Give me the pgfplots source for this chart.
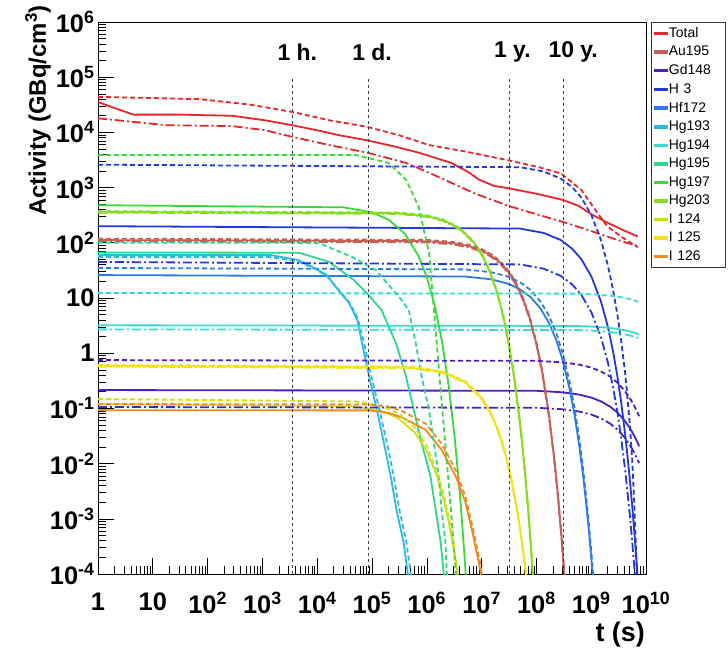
\documentclass[border=0pt]{standalone}
\usepackage{pgfplots}
\pgfplotsset{compat=1.18}
\usepackage{fontspec}
\setmainfont{Liberation Sans}
\definecolor{cTot}{HTML}{E8262A}
\definecolor{cAu}{HTML}{C8605A}
\definecolor{cGd}{HTML}{4B20C0}
\definecolor{cH}{HTML}{2338D8}
\definecolor{cHf}{HTML}{2E7BE4}
\definecolor{cHga}{HTML}{2DB9E6}
\definecolor{cHgb}{HTML}{3ED8D0}
\definecolor{cHgc}{HTML}{2ED88A}
\definecolor{cHgd}{HTML}{3AD83A}
\definecolor{cHge}{HTML}{86DC22}
\definecolor{cIa}{HTML}{C6E21E}
\definecolor{cIb}{HTML}{F2E21C}
\definecolor{cIc}{HTML}{F08A1E}
\tikzset{
 ls/.style={line width=1.8bp},
 ld/.style={line width=1.8bp, dash pattern=on 5bp off 3bp},
 lc/.style={line width=1.8bp, dash pattern=on 9bp off 3bp on 2bp off 3bp},
}
\begin{document}
\begin{tikzpicture}
\useasboundingbox (-98bp,-84bp) rectangle (630bp,574bp);
\begin{axis}[
 at={(0,0)}, anchor=south west, scale only axis,
 width=548bp, height=552bp,
 xmode=log, ymode=log,
 xmin=1, xmax=1e10, ymin=1e-4, ymax=1e6,
 xtick={1,10,100,1e3,1e4,1e5,1e6,1e7,1e8,1e9,1e10},
 xticklabels={1,10,10\textsuperscript{2},10\textsuperscript{3},10\textsuperscript{4},10\textsuperscript{5},10\textsuperscript{6},10\textsuperscript{7},10\textsuperscript{8},10\textsuperscript{9},10\textsuperscript{10}},
 ytick={1e-4,1e-3,1e-2,1e-1,1,10,100,1e3,1e4,1e5,1e6},
 yticklabels={10\textsuperscript{-4},10\textsuperscript{-3},10\textsuperscript{-2},10\textsuperscript{-1},1,10,10\textsuperscript{2},10\textsuperscript{3},10\textsuperscript{4},10\textsuperscript{5},10\textsuperscript{6}},
 tick align=inside, xtick pos=bottom, ytick pos=left,
 major tick length=16bp, minor tick length=8bp,
 every tick/.style={black, line width=0.6bp},
 axis line style={black, line width=0.8bp},
 ticklabel style={font=\fontsize{25.5}{25.5}\selectfont\bfseries},
 xticklabel style={yshift=-15bp},
 no markers, line join=round,
 legend cell align=left,
 legend style={at={(1,1)}, anchor=north west, xshift=5bp, draw=black!80, line width=0.6bp,
   font=\fontsize{14}{14}\selectfont, row sep=5.3bp, inner xsep=3bp, inner ysep=4bp, nodes={inner sep=1bp},
   /tikz/every even column/.append style={text width=52bp}},
 legend image code/.code={\fill[#1] (0bp,-1.2bp) rectangle (13bp,1.2bp);},
]
\addlegendimage{cTot}\addlegendentry{Total}
\addlegendimage{cAu}\addlegendentry{Au195}
\addlegendimage{cGd}\addlegendentry{Gd148}
\addlegendimage{cH}\addlegendentry{H 3}
\addlegendimage{cHf}\addlegendentry{Hf172}
\addlegendimage{cHga}\addlegendentry{Hg193}
\addlegendimage{cHgb}\addlegendentry{Hg194}
\addlegendimage{cHgc}\addlegendentry{Hg195}
\addlegendimage{cHgd}\addlegendentry{Hg197}
\addlegendimage{cHge}\addlegendentry{Hg203}
\addlegendimage{cIa}\addlegendentry{I 124}
\addlegendimage{cIb}\addlegendentry{I 125}
\addlegendimage{cIc}\addlegendentry{I 126}
% ---------- solid curves ----------
\addplot[cTot, ls, forget plot] coordinates {(1,3.55e4) (2.04,2.75e4) (4.4,2.1e4) (31,2.1e4) (282,2.0e4) (1.1e3,1.66e4) (3.5e3,1.35e4) (1.1e4,1.07e4) (2.5e4,8.9e3) (8.1e4,7.2e3) (2.5e5,5.6e3) (7.1e5,4.3e3) (2.8e6,2.8e3) (5.8e6,1.9e3) (8.9e6,1.4e3) (1.7e7,1.07e3) (3.0e7,980) (1.1e8,760) (3.0e8,600) (5.8e8,470) (1.0e9,330) (2.0e9,230) (3.8e9,170) (7.1e9,130)};
\addplot[cAu, ls, forget plot] coordinates {(1,112) (1e6,107) (3e6,98.4) (6e6,86.5) (1e7,72.8) (1.5e7,58.6) (2.2e7,43.4) (3e7,30.7) (4e7,20.0) (5.5e7,10.5) (7.5e7,4.43) (1e8,1.50) (1.3e8,0.414) (1.7e8,0.0737) (2.1e8,0.0131) (2.5e8,2.32e-3) (2.9e8,4.14e-4) (3.3e8,7.4e-5)};
\addplot[cGd, ls, forget plot] coordinates {(1,0.215) (1e8,0.2084) (3e8,0.1957) (6e8,0.1782) (1e9,0.1573) (1.5e9,0.1345) (2.2e9,0.1081) (3e9,0.0842) (4e9,0.0616) (5e9,0.0451) (6e9,0.033) (7e9,0.0241) (7.5e9,0.0206)};
\addplot[cH, ls, forget plot] coordinates {(1,200) (5e7,181) (1.35e8,151) (2.8e8,112) (4.5e8,78) (6.6e8,50.5) (1e9,24.9) (1.5e9,8.8) (2e9,3.1) (2.5e9,1.09) (3e9,0.386) (3.5e9,0.136) (4.2e9,0.0317) (5e9,5.99e-3) (5.6e9,1.72e-3) (6.3e9,4.0e-4) (7e9,9.4e-5)};
\addplot[cHf, ls, forget plot] coordinates {(1,26) (5e6,24.5) (1.5e7,21.8) (3e7,18.3) (5e7,14.4) (8e7,10.2) (1.2e8,6.35) (1.7e8,3.52) (2.3e8,1.74) (3e8,0.76) (4e8,0.234) (5e8,0.0726) (6e8,0.0223) (7e8,6.9e-3) (8e8,2.1e-3) (9e8,6.6e-4) (1e9,2.0e-4) (1.1e9,6.2e-5)};
\addplot[cHga, ls, forget plot] coordinates {(1,60) (1.4e3,60) (4.4e3,49) (8.9e3,35) (1.5e4,26) (2.2e4,15.8) (3.8e4,8.1) (5.4e4,4.0) (6.6e4,1.5) (8.9e4,0.37) (1.23e5,0.093) (1.66e5,0.023) (2.2e5,5.8e-3) (2.8e5,1.45e-3) (3.8e5,3.6e-4) (4.5e5,1e-4) (4.8e5,7e-5)};
\addplot[cHgb, ls, forget plot] coordinates {(1,3.2) (5e8,3.12) (1e9,3.04) (2e9,2.90) (3e9,2.75) (4.5e9,2.56) (6e9,2.37) (7.5e9,2.20)};
\addplot[cHgc, ls, forget plot] coordinates {(1,67) (4.7e3,66) (1.66e4,45) (4.7e4,21) (8.9e4,11) (1.5e5,6.0) (2.75e5,1.5) (4.2e5,0.37) (5.8e5,0.093) (8.1e5,0.023) (1.17e6,5.8e-3) (1.45e6,1.45e-3) (1.8e6,3.6e-4) (2.0e6,1.2e-4) (2.1e6,8e-5)};
\addplot[cHgd, ls, forget plot] coordinates {(1,480) (3e4,439) (1e5,356) (2e5,263) (4e5,145) (7e5,58.8) (1e6,23.9) (1.4e6,7.2) (1.9e6,1.6) (2.5e6,0.265) (3.2e6,0.0325) (4e6,2.95e-3) (4.8e6,2.67e-4) (5.5e6,3.3e-5)};
\addplot[cHge, ls, forget plot] coordinates {(1,363) (3e5,344) (1e6,305) (2e6,256) (4e6,180) (7e6,106) (1e7,62.8) (1.4e7,31.1) (1.9e7,12.96) (2.5e7,4.52) (3.2e7,1.32) (4e7,0.325) (5e7,0.0564) (6e7,9.7e-3) (7e7,1.69e-3) (8e7,2.9e-4) (9e7,5.0e-5)};
\addplot[cIa, ls, forget plot] coordinates {(1,0.12) (5e4,0.1088) (1.5e5,0.0894) (3e5,0.0666) (6e5,0.037) (1e6,0.0169) (1.5e6,6.35e-3) (2e6,2.38e-3) (2.5e6,8.9e-4) (3e6,3.35e-4) (3.5e6,1.26e-4) (4e6,4.7e-5)};
\addplot[cIb, ls, forget plot] coordinates {(1,0.59) (5e5,0.551) (2e6,0.450) (5e6,0.300) (1e7,0.153) (1.5e7,0.0777) (2e7,0.0397) (2.7e7,0.0153) (3.5e7,5.2e-3) (4.5e7,1.35e-3) (5.5e7,3.5e-4) (6.5e7,9.1e-5)};
\addplot[cIc, ls, forget plot] coordinates {(1,0.093) (8.9e4,0.092) (2e5,0.083) (3.5e5,0.069) (9.5e5,0.041) (1.86e6,0.0178) (3.4e6,5.8e-3) (5.1e6,1.95e-3) (7.1e6,4.7e-4) (9.5e6,1.17e-4) (1.0e7,8e-5)};
% ---------- dashed / dash-dotted curves ----------
\addplot[cTot, ld, forget plot] coordinates {(1,4.4e4) (8.9,4.2e4) (71,4.0e4) (575,3.2e4) (3.5e3,2.35e4) (1.66e4,1.66e4) (8.1e4,1.26e4) (3.1e5,8.9e3) (1.1e6,5.9e3) (5.1e6,4.5e3) (2.75e7,3.2e3) (1.1e8,2.35e3) (2.8e8,1.8e3) (6.6e8,910) (1.35e9,330) (2.0e9,195) (3.8e9,123) (7.1e9,83)};
\addplot[cTot, lc, forget plot] coordinates {(1,1.8e4) (18,1.35e4) (282,1.3e4) (1.1e3,1.1e4) (3.5e3,8.3e3) (1.66e4,5.9e3) (8.1e4,4.3e3) (4.2e5,2.8e3) (1.66e6,1.55e3) (7.1e6,800) (3.0e7,470) (1.1e8,320) (3.0e8,240) (8.9e8,170) (2.3e9,123) (7.1e9,87)};
\addplot[cAu, ld, forget plot] coordinates {(1,119) (1e6,113) (3e6,104) (6e6,91.7) (1e7,77.2) (1.5e7,62.1) (2.2e7,46) (3e7,32.5) (4e7,21.2) (5.5e7,11.1) (7.5e7,4.7) (1e8,1.59) (1.3e8,0.439) (1.7e8,0.0781) (2.1e8,0.0139) (2.5e8,2.46e-3) (2.9e8,4.39e-4) (3.3e8,7.8e-5)};
\addplot[cAu, lc, forget plot] coordinates {(1,106.4) (1e6,101.7) (3e6,93.5) (6e6,82.2) (1e7,69.2) (1.5e7,55.7) (2.2e7,41.2) (3e7,29.2) (4e7,19) (5.5e7,9.98) (7.5e7,4.21) (1e8,1.43) (1.3e8,0.393) (1.7e8,0.070) (2.1e8,0.0124) (2.5e8,2.2e-3) (2.9e8,3.9e-4) (3.3e8,7e-5)};
\addplot[cGd, ld, forget plot] coordinates {(1,0.75) (1e8,0.727) (3e8,0.683) (6e8,0.622) (1e9,0.549) (1.5e9,0.469) (2.2e9,0.377) (3e9,0.294) (4e9,0.215) (5e9,0.157) (6e9,0.115) (7e9,0.0841) (7.5e9,0.072)};
\addplot[cGd, lc, forget plot] coordinates {(1,0.106) (1e8,0.1027) (3e8,0.0965) (6e8,0.0879) (1e9,0.0776) (1.5e9,0.0663) (2.2e9,0.0533) (3e9,0.0415) (4e9,0.0304) (5e9,0.0222) (6e9,0.0163) (7e9,0.0119) (7.5e9,0.0102)};
\addplot[cH, ld, forget plot] coordinates {(1,2600) (5e7,2343) (1.35e8,1963) (2.8e8,1451) (4.5e8,1019) (6.6e8,658) (1e9,324) (1.5e9,114) (2e9,40.3) (2.5e9,14.2) (3e9,5.02) (3.5e9,1.77) (4.2e9,0.41) (5e9,0.06) (5.6e9,0.012) (6.1e9,2e-3) (6.6e9,2.5e-4) (6.9e9,8e-5)};
\addplot[cH, lc, forget plot] coordinates {(1,45) (5e7,40.6) (1.35e8,34.0) (2.8e8,25.1) (4.5e8,17.6) (6.6e8,11.4) (1e9,5.6) (1.5e9,1.98) (2e9,0.70) (2.5e9,0.246) (3e9,0.087) (3.5e9,0.0306) (4.2e9,7.1e-3) (5e9,1.35e-3) (5.6e9,3.9e-4) (6.3e9,9e-5)};
\addplot[cHf, ld, forget plot] coordinates {(1,35) (5e6,33) (1.5e7,29.3) (3e7,24.6) (5e7,19.4) (8e7,13.7) (1.2e8,8.5) (1.7e8,4.74) (2.3e8,2.34) (3e8,1.02) (4e8,0.315) (5e8,0.098) (6e8,0.030) (7e8,9.3e-3) (8e8,2.8e-3) (9e8,8.8e-4) (1e9,2.7e-4) (1.1e9,8.3e-5)};
\addplot[cHga, ld, forget plot] coordinates {(1,55) (1.4e3,55) (4.4e3,46) (8.9e3,34) (1.5e4,25) (2.2e4,16) (3.8e4,8.5) (5.4e4,4.5) (7e4,1.7) (9.5e4,0.42) (1.35e5,0.1) (1.85e5,0.025) (2.45e5,6.5e-3) (3.1e5,1.6e-3) (4.2e5,4e-4) (5.1e5,1e-4) (5.4e5,7e-5)};
\addplot[cHgb, ld, forget plot] coordinates {(1,12.3) (5e8,12.0) (1e9,11.7) (2e9,11.1) (3e9,10.6) (4.5e9,9.82) (6e9,9.11) (7.5e9,8.45)};
\addplot[cHgb, lc, forget plot] coordinates {(1,2.7) (5e8,2.63) (1e9,2.57) (2e9,2.44) (3e9,2.32) (4.5e9,2.16) (6e9,2.0) (7.5e9,1.85)};
\addplot[cHgc, ld, forget plot] coordinates {(1,100) (4e3,100) (1.1e4,98) (4.4e4,55) (1.18e5,32) (3.5e5,9.1) (4.7e5,6.0) (6.3e5,1.5) (8.1e5,0.37) (1.1e6,0.093) (1.35e6,0.023) (1.66e6,5.8e-3) (1.86e6,1.45e-3) (2.2e6,3.6e-4) (2.3e6,1.2e-4) (2.4e6,7e-5)};
\addplot[cHgd, ld, forget plot] coordinates {(1,3900) (5e4,3900) (2e5,2800) (4.2e5,1380) (7.1e5,450) (1.1e6,66) (1.45e6,2.6) (1.8e6,0.2) (2.3e6,0.012) (2.8e6,1.2e-3) (3.4e6,1e-4) (3.6e6,5e-5)};
\addplot[cHge, ld, forget plot] coordinates {(1,374) (3e5,354) (1e6,314) (2e6,264) (4e6,185) (7e6,109) (1e7,64.7) (1.4e7,32) (1.9e7,13.3) (2.5e7,4.66) (3.2e7,1.36) (4e7,0.335) (5e7,0.058) (6e7,0.01) (7e7,1.74e-3) (8e7,3.0e-4) (9e7,5.2e-5)};
\addplot[cHge, lc, forget plot] coordinates {(1,352) (3e5,334) (1e6,296) (2e6,248) (4e6,175) (7e6,103) (1e7,60.9) (1.4e7,30.2) (1.9e7,12.6) (2.5e7,4.38) (3.2e7,1.28) (4e7,0.315) (5e7,0.0547) (6e7,9.4e-3) (7e7,1.64e-3) (8e7,2.8e-4) (9e7,4.9e-5)};
\addplot[cIa, ld, forget plot] coordinates {(1,0.148) (5e4,0.134) (1.5e5,0.110) (3e5,0.0821) (6e5,0.0456) (1e6,0.0208) (1.5e6,7.83e-3) (2e6,2.93e-3) (2.5e6,1.1e-3) (3e6,4.13e-4) (3.5e6,1.55e-4) (4e6,5.8e-5)};
\addplot[cIb, ld, forget plot] coordinates {(1,0.614) (5e5,0.573) (2e6,0.468) (5e6,0.312) (1e7,0.159) (1.5e7,0.0808) (2e7,0.0413) (2.7e7,0.0159) (3.5e7,5.4e-3) (4.5e7,1.4e-3) (5.5e7,3.64e-4) (6.5e7,9.5e-5)};
\addplot[cIb, lc, forget plot] coordinates {(1,0.572) (5e5,0.534) (2e6,0.437) (5e6,0.291) (1e7,0.148) (1.5e7,0.0754) (2e7,0.0385) (2.7e7,0.0148) (3.5e7,5.0e-3) (4.5e7,1.31e-3) (5.5e7,3.4e-4) (6.5e7,8.8e-5)};
\addplot[cIc, ld, forget plot] coordinates {(1,0.12) (8.9e4,0.118) (2e5,0.108) (3.5e5,0.09) (9.5e5,0.053) (1.86e6,0.023) (3.4e6,7.5e-3) (5.1e6,2.5e-3) (7.1e6,6e-4) (9.5e6,1.5e-4) (1.05e7,8e-5)};
% ---------- reference time lines ----------
\addplot[black!75, line width=0.8bp, dash pattern=on 3bp off 3bp, forget plot] coordinates {(3600,9.27e4) (3600,1e-4)};
\addplot[black!75, line width=0.8bp, dash pattern=on 3bp off 3bp, forget plot] coordinates {(86400,9.27e4) (86400,1e-4)};
\addplot[black!75, line width=0.8bp, dash pattern=on 3bp off 3bp, forget plot] coordinates {(3.156e7,9.27e4) (3.156e7,1e-4)};
\addplot[black!75, line width=0.8bp, dash pattern=on 3bp off 3bp, forget plot] coordinates {(3.156e8,9.27e4) (3.156e8,1e-4)};
\node[font=\fontsize{23}{23}\selectfont\bfseries] at (axis cs:4.33e3,2.86e5) {1 h.};
\node[font=\fontsize{23}{23}\selectfont\bfseries] at (axis cs:1e5,2.86e5) {1 d.};
\node[font=\fontsize{23}{23}\selectfont\bfseries] at (axis cs:3.65e7,2.86e5) {1 y.};
\node[font=\fontsize{23}{23}\selectfont\bfseries] at (axis cs:4.7e8,2.86e5) {10 y.};
\end{axis}
\node[rotate=90, anchor=east, inner sep=0pt, font=\fontsize{24}{24}\selectfont\bfseries] at (-60bp,569bp) {Activity (GBq/cm\textsuperscript{3})};
\node[anchor=north east, inner sep=0pt, font=\fontsize{27}{27}\selectfont\bfseries] at (547bp,-48bp) {t (s)};
\end{tikzpicture}
\end{document}
